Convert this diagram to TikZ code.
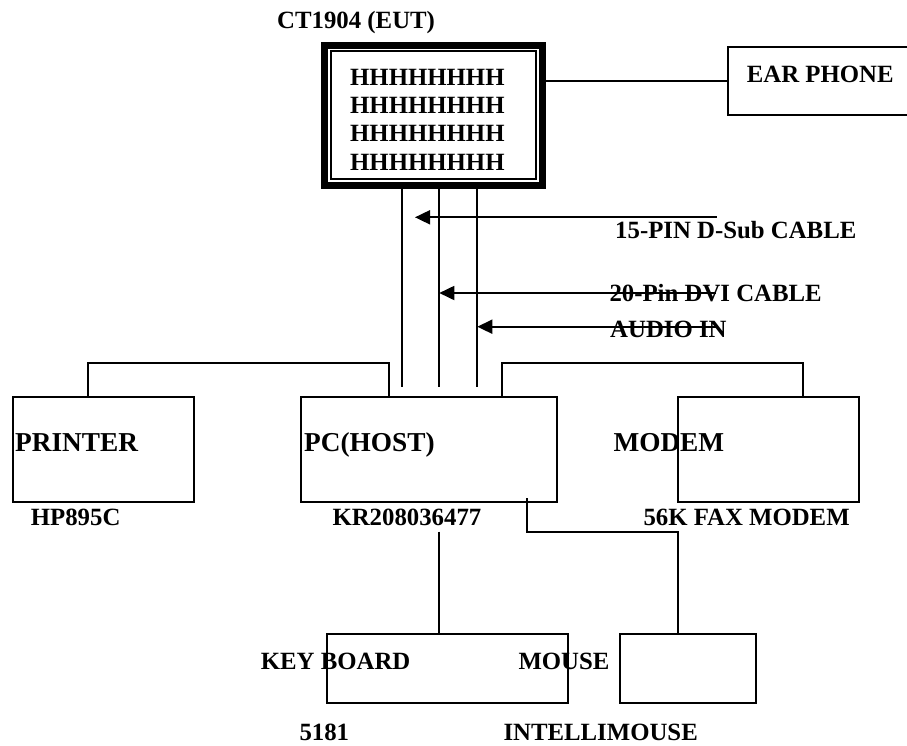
\documentclass[tikz,border=0pt]{standalone}
\usepackage{fontspec}
\setmainfont{Liberation Serif}
\usetikzlibrary{arrows.meta,calc}
\begin{document}
\begin{tikzpicture}[x=1pt,y=-1pt,
  box/.style={draw, line width=1.8pt, inner sep=0pt, outer sep=0pt},
  lbl/.style={anchor=base west, inner sep=0pt, font=\fontsize{24.8}{28}\selectfont\bfseries},
  biglbl/.style={anchor=base west, inner sep=0pt, font=\fontsize{27.3}{30}\selectfont\bfseries},
  wire/.style={line width=1.8pt},
  cable/.style={wire, -{Triangle[length=15pt,width=14pt]}}]
\useasboundingbox (0,0) rectangle (907,745);

% monitor (EUT)
\node[draw, line width=7pt, inner sep=0pt, outer sep=0pt, minimum width=217.5pt, minimum height=140.5pt] (monitor) at (433.45,115.25) {};
\node[draw, line width=1.5pt, inner sep=0pt, outer sep=0pt, minimum width=205pt, minimum height=128pt] (screen) at (433.5,115) {};
\node[lbl] (title) at (277,28.3) {CT1904 (EUT)};
\node[lbl] (h1) at (350,85) {HHHHHHHH};
\node[lbl] (h2) at (350,113.3) {HHHHHHHH};
\node[lbl] (h3) at (350,141.7) {HHHHHHHH};
\node[lbl] (h4) at (350,170) {HHHHHHHH};

% ear phone
\node[box, minimum width=200pt, minimum height=67.7pt] (earphone) at (827.7,81.2) {};
\node[lbl] (eartxt) at (746.7,82.3) {EAR PHONE};
\draw[wire] (monitor.east |- earphone.west) -- (earphone.west);

% boxes
\node[box, minimum width=181.3pt, minimum height=105pt] (printer) at (103.35,449.2) {};
\node[box, minimum width=256.3pt, minimum height=105pt] (pc) at (429.15,449.2) {};
\node[box, minimum width=181pt, minimum height=105pt] (modem) at (768.2,449.2) {};
\node[box, minimum width=241pt, minimum height=68.4pt] (keyboard) at (447.2,668.5) {};
\node[box, minimum width=136pt, minimum height=68.7pt] (mouse) at (688,668.4) {};

% cables from monitor
\coordinate (c1) at (401.7,386.7);
\coordinate (c2) at (439.3,386.7);
\coordinate (c3) at (477.3,386.7);
\draw[wire] (c1 |- monitor.south) -- (c1);
\draw[wire] (c2 |- monitor.south) -- (c2);
\draw[wire] (c3 |- monitor.south) -- (c3);

% cable arrows
\coordinate (a1s) at (716.7,217.3);
\coordinate (a1e) at (415,217.3);
\coordinate (a2s) at (716,293);
\coordinate (a2e) at (439.3,293);
\coordinate (a3s) at (716,326.7);
\coordinate (a3e) at (477.3,326.7);
\draw[cable] (a1s) -- (a1e);
\draw[cable] (a2s) -- (a2e);
\draw[cable] (a3s) -- (a3e);
\node[lbl] (t15) at (615,238.3) {15-PIN D-Sub CABLE};
\node[lbl] (t20) at (609.3,301.7) {20-Pin DVI CABLE};
\node[lbl] (taud) at (610,337.3) {AUDIO IN};

% printer and modem connectors
\coordinate (prUp) at (88.3,396.7);
\coordinate (prJ) at (389.3,362.7);
\draw[wire] (prUp) |- (prJ) -- (prJ |- pc.north);
\coordinate (pcM) at (502,396.7);
\coordinate (mdJ) at (803.3,362.7);
\draw[wire] (pcM) |- (mdJ) -- (mdJ |- modem.north);

% mouse connector
\coordinate (pcMs) at (527.3,498.3);
\coordinate (msJ) at (677.7,532.3);
\draw[wire] (pcMs) |- (msJ) -- (msJ |- mouse.north);

% keyboard connector
\coordinate (kbTop) at (439.3,531.7);
\draw[wire] (kbTop) -- (kbTop |- keyboard.north);

% labels
\node[biglbl] (tprinter) at (15,451.7) {PRINTER};
\node[biglbl] (tpc) at (304,451.7) {PC(HOST)};
\node[biglbl] (tmodem) at (613.3,451.7) {MODEM};
\node[lbl] (thp) at (30.7,525) {HP895C};
\node[lbl] (tkr) at (332.3,525) {KR208036477};
\node[lbl] (tfax) at (643.3,525) {56K FAX MODEM};
\node[lbl] (tkb) at (260.7,669.3) {KEY BOARD};
\node[lbl] (tmouse) at (518.3,669.3) {MOUSE};
\node[lbl] (t5181) at (299.3,740) {5181};
\node[lbl] (tintel) at (503.3,740) {INTELLIMOUSE};
\end{tikzpicture}
\end{document}
